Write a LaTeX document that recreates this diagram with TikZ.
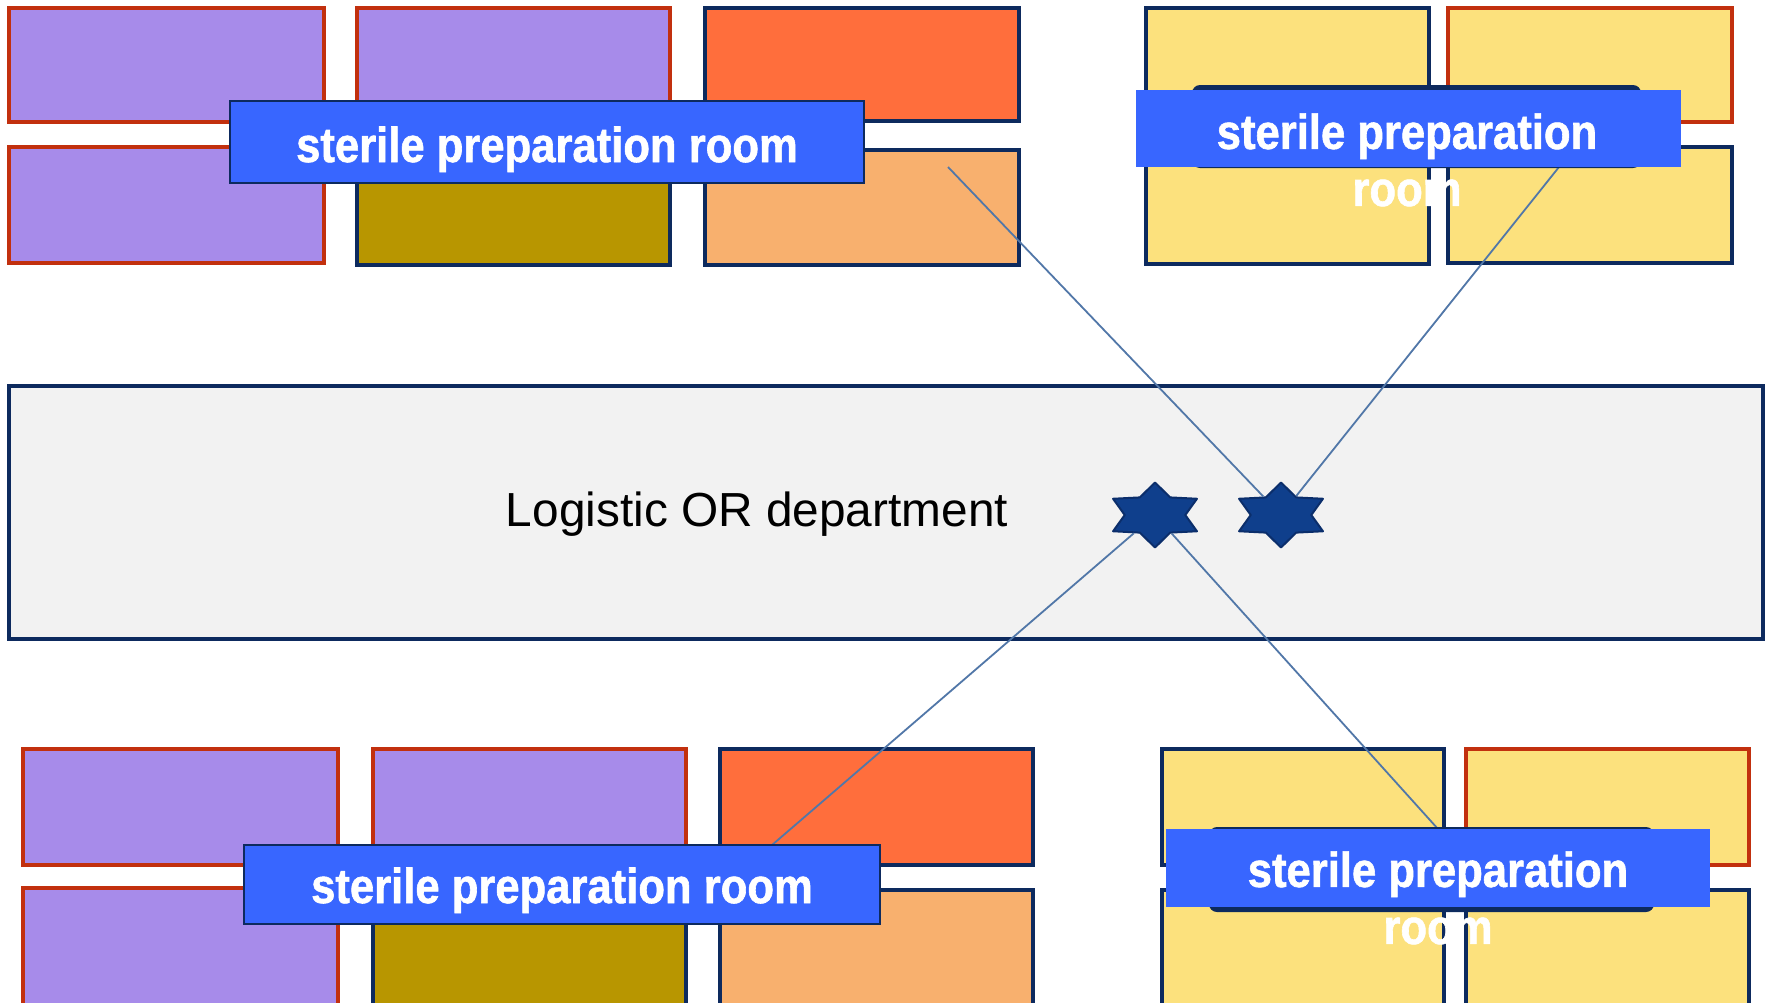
\documentclass[tikz,border=0pt]{standalone}
\usepackage{fontspec}
\setmainfont{Liberation Sans}
\newfontfamily\lblfont[FakeStretch=0.89,FakeBold=1.2]{Liberation Sans}
\usetikzlibrary{fit,shapes.geometric}
\definecolor{purp}{HTML}{A78BEA}
\definecolor{orng}{HTML}{FF6E3C}
\definecolor{lorng}{HTML}{F8B06E}
\definecolor{olive}{HTML}{B89600}
\definecolor{yell}{HTML}{FCE17D}
\definecolor{lblue}{HTML}{3866FF}
\definecolor{navyb}{HTML}{0D2A5E}
\definecolor{redb}{HTML}{C2300E}
\definecolor{starblue}{HTML}{0F3F8C}
\definecolor{starline}{HTML}{0B2E6B}
\definecolor{linkc}{HTML}{5177A8}
\definecolor{bandfill}{HTML}{F2F2F2}
\tikzset{
  room/.style={rectangle, line width=1.9pt, inner sep=0pt},
  redroom/.style={room, draw=redb},
  navyroom/.style={room, draw=navyb},
  lblbox/.style={rectangle, fill=lblue, draw=navyb, line width=0.8pt, inner sep=0pt},
  lblplain/.style={rectangle, fill=lblue, inner sep=0pt},
  lblshade/.style={rectangle, fill=navyb, rounded corners=4pt, inner sep=0pt},
  lbltext/.style={text=white, font=\lblfont\bfseries\fontsize{24.5}{28.5}\selectfont, inner sep=0pt, align=center},
  hexstar/.style={star, star points=6, star point ratio=1.6, minimum size=32.5pt, inner sep=0pt,
    fill=starblue, draw=starline, line width=1pt, line join=round, xscale=1.49},
  link/.style={draw=linkc, line width=0.9pt},
  band/.style={rectangle, fill=bandfill, draw=navyb, line width=1.6pt, inner sep=0pt}
}
\begin{document}
\begin{tikzpicture}[x=0.5pt, y=-0.5pt]
\useasboundingbox (0,0) rectangle (1770,1002);
\clip (0,0) rectangle (1770,1002);
\fill[white] (0,0) rectangle (1770,1002);

% central band
\node[band, fit={(9,386) (1763,639)}] (band) {};
\node[anchor=base, font=\fontsize{23.9}{28}\selectfont, inner sep=0pt] (bandtxt) at (757,526) {Logistic OR department};

% top-left group
\node[redroom, fill=purp, fit={(9,8) (324,122)}] (a1) {};
\node[redroom, fill=purp, fit={(357,8) (670,122)}] (a2) {};
\node[navyroom, fill=orng, fit={(705,8) (1019,121)}] (a3) {};
\node[redroom, fill=purp, fit={(9,147) (324,263)}] (b1) {};
\node[navyroom, fill=olive, fit={(357,150) (670,265)}] (b2) {};
\node[navyroom, fill=lorng, fit={(705,150) (1019,265)}] (b3) {};

% top-right group
\node[navyroom, fill=yell, fit={(1146,8) (1429,122)}] (c1) {};
\node[redroom, fill=yell, fit={(1448,8) (1732,122)}] (c2) {};
\node[navyroom, fill=yell, fit={(1146,147) (1429,264)}] (d1) {};
\node[navyroom, fill=yell, fit={(1448,147) (1732,263)}] (d2) {};

% bottom-left group
\node[redroom, fill=purp, fit={(23,749) (338,865)}] (e1) {};
\node[redroom, fill=purp, fit={(373,749) (686,865)}] (e2) {};
\node[navyroom, fill=orng, fit={(720,749) (1033,865)}] (e3) {};
\node[redroom, fill=purp, fit={(23,888) (338,1012)}] (f1) {};
\node[navyroom, fill=olive, fit={(373,890) (686,1012)}] (f2) {};
\node[navyroom, fill=lorng, fit={(720,890) (1033,1012)}] (f3) {};

% bottom-right group
\node[navyroom, fill=yell, fit={(1162,749) (1444,865)}] (g1) {};
\node[redroom, fill=yell, fit={(1466,749) (1749,865)}] (g2) {};
\node[navyroom, fill=yell, fit={(1162,890) (1444,1012)}] (h1) {};
\node[navyroom, fill=yell, fit={(1466,890) (1749,1012)}] (h2) {};

% stars
\node[hexstar] (s1) at (1155,515) {};
\node[hexstar] (s2) at (1281,515) {};

% connector free ends
\coordinate (p1) at (948,167);
\coordinate (p2) at (1559,167);
\coordinate (p3) at (772,845);
\coordinate (p4) at (1438,829);
\draw[link] (p1) -- (s2);
\draw[link] (p2) -- (s2);
\draw[link] (s1) -- (p3);
\draw[link] (s1) -- (p4);

% labels
\node[lblbox, fit={(230,101) (864,183)}] (ltl) {};
\node[lbltext, anchor=base] (ttl) at (547,162) {sterile preparation room};

\node[lblshade, fit={(1192,85) (1641,168)}] (shtr) {};
\node[lblplain, fit={(1136,90) (1681,167)}] (ltr) {};
\node[lbltext, anchor=north] (ttr) at (1407,113) {sterile preparation\\room};

\node[lblbox, fit={(244,845) (880,924)}] (lbl) {};
\node[lbltext, anchor=base] (tbl) at (562,903) {sterile preparation room};

\node[lblshade, fit={(1209,827) (1654,912)}] (shbr) {};
\node[lblplain, fit={(1166,829) (1710,907)}] (lbr) {};
\node[lbltext, anchor=north] (tbr) at (1438,851) {sterile preparation\\room};
\end{tikzpicture}
\end{document}
